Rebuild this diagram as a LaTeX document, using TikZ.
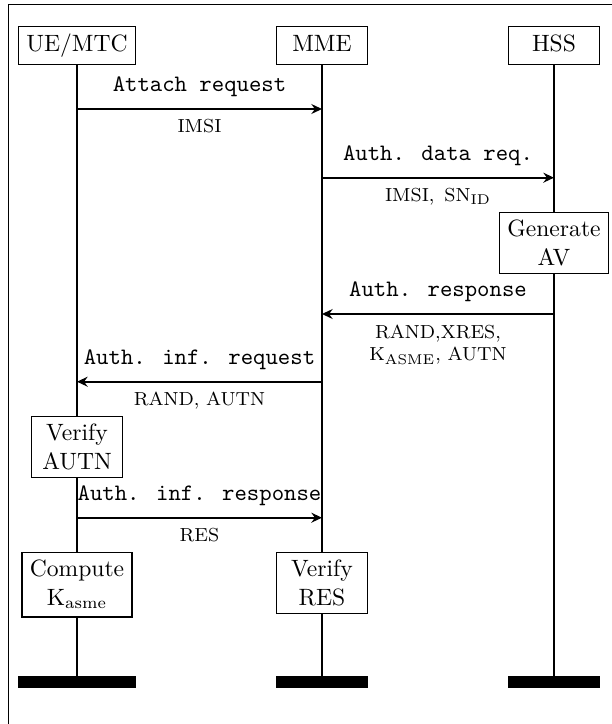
\documentclass[tikz,border=0pt]{standalone}
\usepackage{fontspec}
\usetikzlibrary{arrows.meta}
\begin{document}
\begin{tikzpicture}[x=0.4237pt,y=-0.4237pt,
  entity/.style={draw,semithick,minimum width=38.8pt,text height=7.2pt,text depth=2.2pt,inner sep=3.33pt},
  actbox/.style={draw,semithick,fill=white,minimum width=38.8pt,align=center,inner sep=3.33pt},
  endbar/.style={fill=black,inner sep=0pt,minimum height=5pt},
  lifeline/.style={thick},
  msg/.style={thick,-{Stealth[length=4.5pt,width=4.2pt,inset=1.5pt]}},
  mlabel/.style={font=\ttfamily,above=1.3pt},
  plabel/.style={font=\footnotesize,below=0.8pt,align=center}]
\useasboundingbox (0,0) rectangle (612,724);
\draw[semithick] (8.5,724) -- (8.5,4.5) -- (612,4.5);
% headers
\node[entity] (ue) at (77,45.5) {UE/MTC};
\node[entity] (mme) at (322,45.5) {MME};
\node[entity] (hss) at (554,45.5) {HSS};
% end bars
\node[endbar,minimum width=49.6pt] (ueend) at (77,682) {};
\node[endbar,minimum width=38.8pt] (mmeend) at (322,682) {};
\node[endbar,minimum width=38.8pt] (hssend) at (554,682) {};
% lifelines
\draw[lifeline] (ue) -- (ueend);
\draw[lifeline] (mme) -- (mmeend);
\draw[lifeline] (hss) -- (hssend);
% activity boxes
\node[actbox] (genav) at (554,242.8) {Generate\\AV};
\node[actbox] (verautn) at (77,447) {Verify\\AUTN};
\node[actbox,anchor=north] (compk) at (77,551.7) {Compute\\K$_{\mathrm{asme}}$};
\node[actbox,anchor=north] (verres) at (322,551.7) {Verify\\RES};
% messages
\coordinate (m1a) at (77,109);   \coordinate (m1b) at (322,109);
\coordinate (m2a) at (322,177.7); \coordinate (m2b) at (554,177.7);
\coordinate (m3a) at (554,314);  \coordinate (m3b) at (322,314);
\coordinate (m4a) at (322,381.7); \coordinate (m4b) at (77,381.7);
\coordinate (m5a) at (77,517.7); \coordinate (m5b) at (322,517.7);
\draw[msg] (m1a) -- node[mlabel]{Attach request} node[plabel]{IMSI} (m1b);
\draw[msg] (m2a) -- node[mlabel]{Auth. data req.} node[plabel]{IMSI,\, SN$_{\mathrm{ID}}$} (m2b);
\draw[msg] (m3a) -- node[mlabel]{Auth. response} node[plabel]{RAND,XRES,\\K$_{\mathrm{ASME}}$, AUTN} (m3b);
\draw[msg] (m4a) -- node[mlabel]{Auth. inf. request} node[plabel]{RAND, AUTN} (m4b);
\draw[msg] (m5a) -- node[mlabel]{Auth. inf. response} node[plabel]{RES} (m5b);
\end{tikzpicture}
\end{document}
